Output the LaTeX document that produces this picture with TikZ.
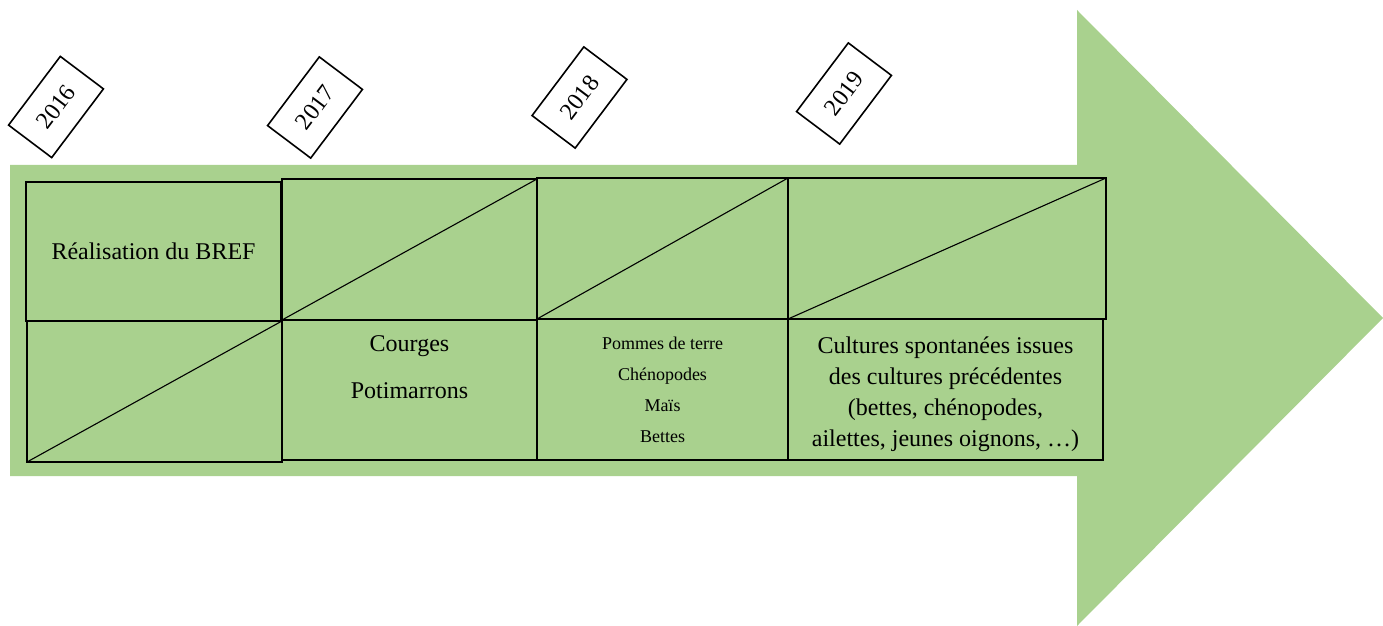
\documentclass[tikz,border=0pt]{standalone}
\usepackage{fontspec}
\setmainfont{Liberation Serif}
\definecolor{leaf}{RGB}{169,209,142}
\begin{document}
\begin{tikzpicture}[x=0.5pt,y=-0.5pt,
  cell/.style={draw=black,line width=0.9pt,fill=leaf,rectangle,inner sep=0pt,outer sep=0pt},
  slash/.style={draw=black,line width=0.55pt},
  yeartag/.style={draw=black,line width=0.8pt,fill=white,rectangle,rotate=53,
    minimum width=43pt,minimum height=27pt,inner sep=0pt,font=\fontsize{12}{14}\selectfont},
  txt/.style={align=center,inner sep=0pt,font=\fontsize{12}{15.5}\selectfont},
  smalltxt/.style={align=center,inner sep=0pt,font=\fontsize{9}{15.5}\selectfont}]
\useasboundingbox (0,0) rectangle (1383,626);
% big arrow
\fill[leaf] (10,165) -- (1077,165) -- (1077,10) -- (1383,318) -- (1077,626)
  -- (1077,476) -- (10,476) -- cycle;
% year cells: upper row
\node[cell,minimum width=127.5pt,minimum height=69.5pt] (t16) at (153.5,251.5) {};
\node[cell,minimum width=127.5pt,minimum height=70.5pt] (t17) at (409.5,249.5) {};
\node[cell,minimum width=125.5pt,minimum height=70.5pt] (t18) at (662.5,248.5) {};
\node[cell,minimum width=159pt,minimum height=70.5pt] (t19) at (947,248.5) {};
% lower row
\node[cell,minimum width=127.5pt,minimum height=70.5pt] (b16) at (154.5,391.5) {};
\node[cell,minimum width=127.5pt,minimum height=70pt] (b17) at (409.5,390) {};
\node[cell,minimum width=125.5pt,minimum height=70.5pt] (b18) at (662.5,389.5) {};
\node[cell,minimum width=157.5pt,minimum height=70.5pt] (b19) at (945.5,389.5) {};
% empty cells are struck through
\draw[slash] (b16.south west) -- (b16.north east);
\draw[slash] (t17.south west) -- (t17.north east);
\draw[slash] (t18.south west) -- (t18.north east);
\draw[slash] (t19.south west) -- (t19.north east);
% cell contents
\node[txt] (bref) at (t16.center) {Réalisation du BREF};
\node[txt] (courges) at (409.5,346) {Courges};
\node[txt] (potim) at (409.5,391) {Potimarrons};
\node[smalltxt] (cult18) at (b18.center) {Pommes de terre\\Chénopodes\\Maïs\\Bettes};
\node[txt] (cult19) at (945.5,394) {Cultures spontanées issues\\des cultures précédentes\\(bettes, chénopodes,\\ailettes, jeunes oignons, …)};
% year tags
\node[yeartag] (y16) at (56,107) {2016};
\node[yeartag] (y17) at (315,107.5) {2017};
\node[yeartag] (y18) at (579.5,97.5) {2018};
\node[yeartag] (y19) at (844,93.5) {2019};
\end{tikzpicture}
\end{document}
